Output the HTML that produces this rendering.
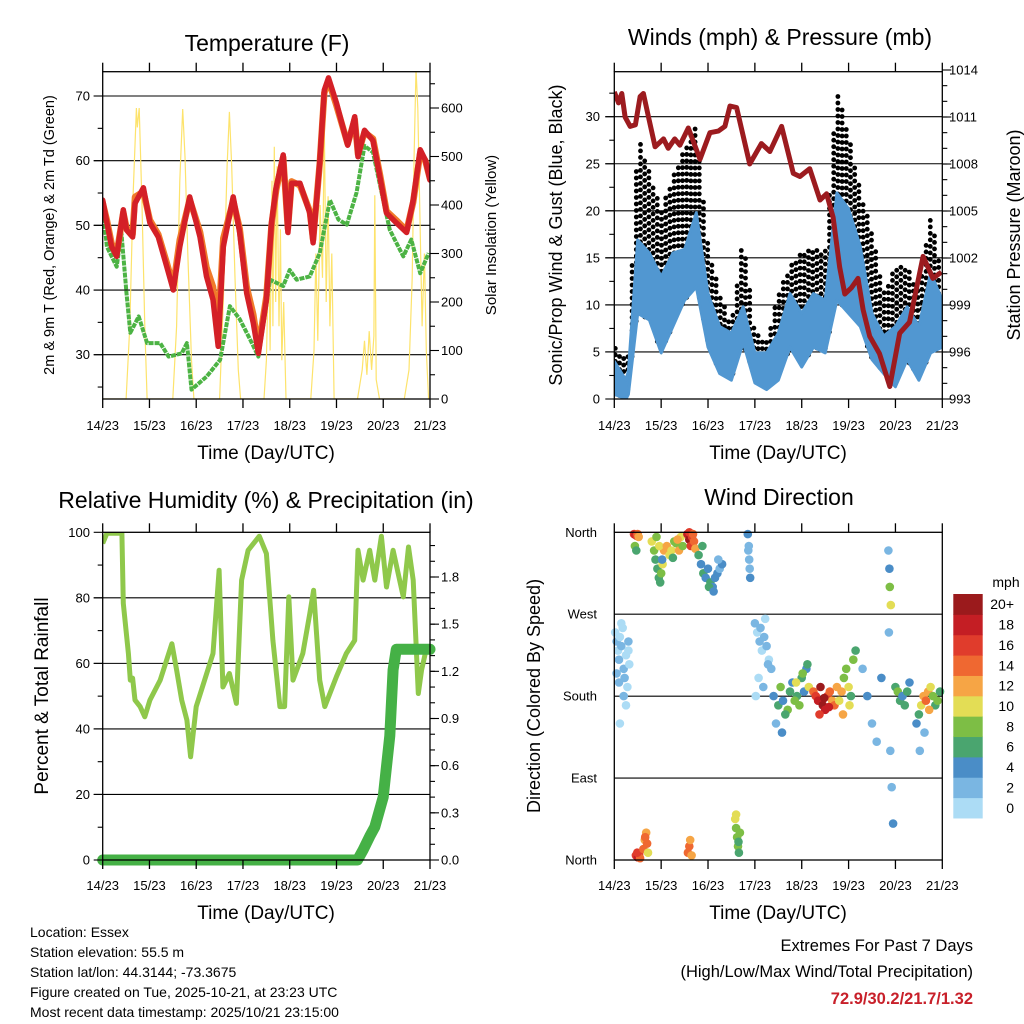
<!DOCTYPE html>
<html><head><meta charset="utf-8">
<style>
html,body{margin:0;padding:0;background:#fff;}
svg{display:block;font-family:"Liberation Sans",Arial,sans-serif;}
</style></head>
<body>
<svg id="chart" width="1024" height="1024" viewBox="0 0 1024 1024" xmlns="http://www.w3.org/2000/svg">
<defs>
<clipPath id="c1"><rect x="102.7" y="71.7" width="327.3" height="327.3"/></clipPath>
<clipPath id="c2"><rect x="614.3" y="71.7" width="328" height="327.3"/></clipPath>
<clipPath id="c3"><rect x="102.7" y="532.3" width="327.3" height="327.7"/></clipPath>
<clipPath id="c4"><rect x="610" y="526" width="336" height="338"/></clipPath>
</defs>
<g id="p1"></g>
<g id="p2"></g>
<g id="p3"></g>
<g id="p4"></g>

<text x="267" y="51" font-size="23" text-anchor="middle">Temperature (F)</text>
<text x="780" y="45" font-size="23" text-anchor="middle">Winds (mph) &amp; Pressure (mb)</text>
<text x="266" y="508" font-size="23" text-anchor="middle">Relative Humidity (%) &amp; Precipitation (in)</text>
<text x="779" y="505" font-size="23" text-anchor="middle">Wind Direction</text>

<text transform="translate(54,235) rotate(-90)" font-size="14.5" text-anchor="middle">2m &amp; 9m T (Red, Orange) &amp; 2m Td (Green)</text>
<text transform="translate(496,235) rotate(-90)" font-size="15" text-anchor="middle">Solar Insolation (Yellow)</text>
<text x="266" y="459" font-size="19" text-anchor="middle">Time (Day/UTC)</text>
<text transform="translate(562,235) rotate(-90)" font-size="18" text-anchor="middle">Sonic/Prop Wind &amp; Gust (Blue, Black)</text>
<text transform="translate(1020,235) rotate(-90)" font-size="18" text-anchor="middle">Station Pressure (Maroon)</text>
<text x="778" y="459" font-size="19" text-anchor="middle">Time (Day/UTC)</text>
<text transform="translate(48,696) rotate(-90)" font-size="19" text-anchor="middle">Percent &amp; Total Rainfall</text>
<text x="266" y="919" font-size="19" text-anchor="middle">Time (Day/UTC)</text>
<text transform="translate(540,696) rotate(-90)" font-size="18" text-anchor="middle">Direction (Colored By Speed)</text>
<text x="778" y="919" font-size="19" text-anchor="middle">Time (Day/UTC)</text>

<g font-size="14">
<text x="30" y="937">Location: Essex</text>
<text x="30" y="957">Station elevation: 55.5 m</text>
<text x="30" y="977">Station lat/lon: 44.3144; -73.3675</text>
<text x="30" y="997">Figure created on Tue, 2025-10-21, at 23:23 UTC</text>
<text x="30" y="1017">Most recent data timestamp: 2025/10/21 23:15:00</text>
</g>
<g text-anchor="end">
<text x="973" y="951" font-size="16.5">Extremes For Past 7 Days</text>
<text x="973" y="977" font-size="16.5">(High/Low/Max Wind/Total Precipitation)</text>
<text x="973" y="1004" font-size="16.5" font-weight="bold" fill="#c8202a">72.9/30.2/21.7/1.32</text>
</g>
</svg>

<script>
// ---------- DATA ----------
const dayLabels=["14/23","15/23","16/23","17/23","18/23","19/23","20/23","21/23"];
// Temperature panel
const tempTimes=[0,0.09,0.19,0.3,0.44,0.51,0.64,0.69,0.87,1.01,1.19,1.37,1.51,1.65,1.86,2.08,2.22,2.36,2.47,2.58,2.79,2.93,3.08,3.22,3.33,3.5,3.61,3.71,3.86,3.96,4.04,4.22,4.43,4.5,4.64,4.74,4.83,5.0,5.24,5.39,5.46,5.6,5.78,5.93,6.07,6.28,6.5,6.64,6.79,6.9,7.0];
const t2Values=[53.9,50.4,46.7,45.2,52.4,49.3,48.2,53.4,55.8,50.4,48.2,43.6,40,46.7,54.4,48.2,42.1,38.5,31.3,46.7,54.4,48.9,39.5,34.9,30.2,38.5,50.4,55.9,60.9,48.9,56.5,56.5,51.9,47.3,59.7,70.9,72.8,68.9,62.4,66.8,60.6,64.7,63.1,57.4,51.9,50.4,48.9,53.9,61.7,60.1,57];
const t9Values=[53.5,50.8,47.2,45.6,52.0,49.6,48.6,54.4,55.2,50.8,48.6,44.2,40.6,47.8,54.0,49.0,43.5,40.5,34.0,48.0,53.8,49.5,40.5,36.2,31.0,39.0,50.0,55.5,60.5,49.5,56.8,56.2,52.2,47.8,59.5,70.5,72.4,68.5,62.6,66.4,61.0,64.4,63.4,57.8,52.2,50.8,49.2,53.6,61.2,60.0,57.2];
const tdTimes=[0,0.09,0.3,0.4,0.51,0.59,0.77,0.95,1.23,1.41,1.69,1.8,1.9,2.22,2.51,2.72,2.93,3.15,3.33,3.58,3.86,4.0,4.15,4.43,4.64,4.86,5.04,5.22,5.43,5.6,5.78,6.0,6.14,6.43,6.6,6.79,6.97];
const tdValues=[53,46.7,43.6,48.9,39.5,33.4,35.9,31.8,31.8,29.7,30.2,31.8,24.6,26.6,29.2,37.5,35.5,32.4,29.7,41.6,40.6,43.1,41.6,42.1,45.7,53.9,50.9,50.1,55.1,62.3,61.3,53.9,49.3,45.2,47.8,42.6,45.7];
const solarTimes=[0,0.5,0.58,0.65,0.72,0.74,0.78,0.84,0.9,0.95,1.5,1.58,1.65,1.71,1.76,1.82,1.9,1.95,2.5,2.58,2.66,2.71,2.76,2.83,2.9,2.95,3.45,3.5,3.55,3.58,3.62,3.64,3.67,3.7,3.73,3.77,3.8,3.83,3.87,3.92,4.45,4.52,4.56,4.6,4.65,4.7,4.74,4.78,4.82,4.86,4.9,4.95,5.45,5.55,5.6,5.65,5.7,5.75,5.8,5.82,5.85,5.92,6.45,6.55,6.62,6.66,6.7,6.74,6.78,6.83,6.88,6.92,6.97,7];
const solarValues=[0,0,150,420,600,560,600,400,150,0,0,150,450,598,500,300,80,0,0,200,480,592,480,250,60,0,0,80,300,100,450,150,520,200,480,150,350,80,200,0,0,100,300,120,400,250,565,200,418,150,300,0,0,60,120,50,140,60,130,420,40,0,0,60,250,500,680,600,400,150,300,100,0,0];
// Winds panel
const pressTimes=[0,0.09,0.16,0.23,0.34,0.45,0.55,0.62,0.73,0.87,1.05,1.15,1.29,1.4,1.58,1.83,2.04,2.22,2.36,2.47,2.61,2.89,3.14,3.32,3.57,3.82,3.96,4.17,4.39,4.53,4.67,4.81,4.92,5.06,5.2,5.31,5.45,5.66,5.88,6.09,6.3,6.59,6.8,6.98];
const pressValues=[1012.6,1011.9,1012.5,1011.0,1010.4,1010.5,1012.3,1012.5,1011.0,1009.1,1009.6,1009.0,1009.6,1009.2,1010.3,1008.3,1010.0,1010.1,1010.4,1011.7,1011.6,1008.0,1009.3,1008.8,1010.4,1007.4,1007.2,1007.7,1005.7,1006.1,1004.6,1001.4,999.7,1000.1,1000.7,998.7,997.0,995.9,993.8,997.2,997.9,1002.1,1000.7,1001.1];
const windTimes=[0,0.25,0.3,0.5,0.75,1.0,1.25,1.5,1.75,2.0,2.25,2.5,2.75,3.0,3.25,3.5,3.75,4.0,4.25,4.5,4.75,5.0,5.25,5.5,5.75,6.0,6.25,6.5,6.75,7.0];
const sonicLow=[0.5,0,0.5,9.1,8.4,4.9,7.7,10.5,11.9,5.5,2.7,2.0,6.0,1.7,1.0,2.0,5.5,3.4,5.5,4.9,10.5,9.1,7.7,4.2,2.7,1.3,4.2,2.0,4.9,5.5];
const sonicHigh=[4,2,3,16.9,15.5,13,15.5,15.9,19.8,11.2,7.7,7.0,9.8,4.9,4.9,7.0,11.2,9.1,11.2,10.5,21.9,20.2,16.2,9.1,6.7,7.7,9.8,7.7,13.4,10.5];
const gustHigh=[5.5,4,5,28,24,20,23.5,26.5,29.3,16.2,11.2,7.7,17.3,7.0,6.0,11.2,14,15.5,15.9,15.5,32.9,28,22,17.7,11.2,14,14,11.2,19.5,13];
// Humidity panel
const rhTimes=[0,0.09,0.41,0.44,0.55,0.59,0.64,0.69,0.8,0.9,1.01,1.23,1.48,1.58,1.69,1.8,1.88,2.0,2.18,2.36,2.49,2.57,2.71,2.86,2.97,3.11,3.35,3.5,3.64,3.79,3.89,3.98,4.07,4.28,4.43,4.51,4.64,4.75,5.0,5.21,5.39,5.46,5.57,5.71,5.82,5.96,6.07,6.21,6.43,6.54,6.64,6.75,6.82,6.93,7.0];
const rhValues=[96.6,99.7,99.7,78.3,63,54.9,55.5,48.8,46.8,43.7,48.8,54.9,66,58,48.8,42.7,31.5,46.8,54.9,63,88.4,52.8,56.9,47.8,85.4,94.5,98.8,93.5,67,46.8,46.8,80.3,54.9,63,75.2,82.3,54.9,46.8,56,63,67,94.5,85.4,94.5,85.4,98.8,83.3,94.5,80.3,95.5,85.4,50.8,58,65,64];
const precipTimes=[0,5.45,5.57,5.71,5.82,6.0,6.14,6.21,6.28,7.0];
const precipValues=[0,0,0.064,0.15,0.21,0.40,0.79,1.21,1.34,1.34];
// Wind direction panel
const dirTimes=[0.02,0.05,0.08,0.1,0.12,0.15,0.18,0.2,0.22,0.25,0.28,0.3,0.32,0.05,0.1,0.15,0.2,0.25,0.3,0.12,
0.42,0.45,0.48,0.5,0.52,0.44,0.47,0.46,0.5,0.53,0.55,0.49,
0.62,0.65,0.68,0.7,0.72,0.66,
0.8,0.85,0.88,0.92,0.95,0.98,1.0,1.03,1.06,0.9,0.96,1.02,
1.12,1.18,1.22,1.28,1.32,1.38,1.42,1.46,1.25,1.35,
1.56,1.6,1.63,1.66,1.7,1.73,1.6,1.68,
1.57,1.6,1.62,1.65,
1.8,1.85,1.9,1.95,2.0,2.05,2.1,2.15,2.2,2.25,2.3,1.88,2.02,2.12,2.22,
2.58,2.6,2.62,2.64,2.66,2.68,2.6,2.65,
2.85,2.87,2.88,2.9,2.86,2.89,
3.0,3.05,3.1,3.15,3.2,3.25,3.3,3.35,3.08,3.18,3.28,3.02,3.12,3.22,
3.4,3.5,3.55,3.6,3.7,3.75,3.8,3.9,3.95,4.0,4.05,4.1,4.15,3.45,3.65,3.85,4.02,4.12,3.58,3.88,
4.25,4.3,4.35,4.4,4.45,4.5,4.55,4.6,4.65,4.7,4.75,4.38,4.48,4.58,
4.8,4.85,4.9,4.95,5.0,5.05,5.1,5.15,4.88,5.02,
5.3,5.4,5.5,5.6,5.7,5.85,5.87,5.88,5.9,5.86,5.89,5.92,5.95,
6.0,6.05,6.1,6.15,6.2,6.25,6.3,
6.45,6.5,6.55,6.6,6.65,6.7,6.75,6.8,6.85,6.9,6.95,6.62,6.72,6.52];
const dirValues=[250,240,230,220,245,235,255,210,200,225,190,240,215,205,195,260,180,170,230,150,
358,357,356,358,355,345,340,5,3,6,2,8,
12,22,30,18,8,25,
350,340,330,320,310,305,315,325,340,355,345,330,
345,335,340,350,348,340,355,345,332,352,
358,352,345,355,350,342,360,358,
8,15,22,5,
335,325,315,310,320,305,300,310,315,320,325,345,300,295,330,
45,35,25,15,8,30,50,20,
358,345,330,310,340,320,
260,250,240,230,245,235,220,210,200,190,215,180,255,265,
180,170,190,175,165,185,195,180,170,200,185,210,190,150,160,175,205,215,140,195,
185,180,175,190,170,165,180,185,175,170,190,160,178,168,
175,185,200,210,190,180,220,230,160,170,
210,180,150,130,200,340,320,300,280,250,120,80,40,
190,185,175,180,170,185,195,
150,160,170,180,175,185,190,180,170,175,185,140,165,120];
const dirSpeeds=[1,2,1,2,1,2,1,2,2,1,1,2,1,3,2,1,2,1,0,1,
16,18,16,14,12,8,6,17,18,16,14,17,
14,13,12,15,10,14,
10,8,6,7,6,7,8,10,12,9,11,5,
12,10,11,8,9,12,10,8,7,13,
18,20,16,17,14,12,16,15,
14,15,13,12,
6,5,6,4,5,6,4,5,4,3,4,7,6,5,3,
10,8,8,8,6,8,10,7,
4,3,3,4,2,3,
2,1,2,1,3,2,1,2,1,2,3,1,2,1,
5,6,8,4,8,6,5,7,8,6,4,5,10,3,7,9,8,6,4,10,
14,16,18,20,20,18,16,14,12,14,12,16,20,18,
10,12,8,8,10,6,8,6,12,10,
3,4,2,3,4,3,4,8,10,2,3,2,4,
6,8,6,5,6,7,4,
4,6,10,12,14,12,10,8,6,8,6,3,12,2];
const speedLabels=["0","2","4","6","8","10","12","14","16","18","20+"];
const speedColors=["#acdcf5","#7ab6e2","#4a8dc7","#4aa56f","#7dbe45","#e3dd55","#f6a545","#ef6831","#e03c2c","#c41e24","#9b1a1c"];

// ---------- HELPERS ----------
const NS="http://www.w3.org/2000/svg";
function lin(d0,d1,r0,r1){return v=>r0+(v-d0)*(r1-r0)/(d1-d0);}
function mk(parent,tag,attrs){const e=document.createElementNS(NS,tag);for(const k in attrs)e.setAttribute(k,attrs[k]);parent.appendChild(e);return e;}
function interp(ts,vs,t){if(t<=ts[0])return vs[0];for(let i=1;i<ts.length;i++){if(t<=ts[i]){const f=(t-ts[i-1])/(ts[i]-ts[i-1]);return vs[i-1]+f*(vs[i]-vs[i-1]);}}return vs[vs.length-1];}
function pathFrom(ts,vs,X,Y){return ts.map((t,i)=>(i?"L":"M")+X(t).toFixed(1)+","+Y(vs[i]).toFixed(1)).join("");}
function txt(parent,x,y,s,size,anchor){const e=mk(parent,"text",{x:x,y:y,"font-size":size,"text-anchor":anchor||"middle"});e.textContent=s;return e;}

function xAxis(g,X,y0,y1,labelY){
  for(let d=0;d<=7;d++){
    const t=mk(g,"line",{x1:X(d),x2:X(d),y1:y0-9,y2:y0,stroke:"#000","stroke-width":1.3});
    
    
    const b=mk(g,"line",{x1:X(d),x2:X(d),y1:y1,y2:y1+9,stroke:"#000","stroke-width":1.3});
    
    
    const l=txt(g,X(d),labelY,dayLabels[d],13);
    
    
  }
}
function yTicks(g,Y,vals,x,side,len,name){
  vals.forEach(v=>{
    const x2=side==="left"?x-len:x+len;
    const e=mk(g,"line",{x1:x,x2:x2,y1:Y(v),y2:Y(v),stroke:"#000","stroke-width":1.1});
    
    
  });
}
function yLabels(g,Y,vals,fmt,x,anchor,name){
  vals.forEach(v=>{
    const e=txt(g,x,Y(v)+4.5,fmt(v),13,anchor);
    
    
  });
}
function grid(g,Y,vals,x0,x1){
  vals.forEach(v=>{
    const e=mk(g,"line",{x1:x0,x2:x1,y1:Y(v),y2:Y(v),stroke:"#000","stroke-width":1.1});
    
    
  });
}
function frame(g,x0,y0,x1,y1){
  const e=mk(g,"rect",{x:x0,y:y0,width:x1-x0,height:y1-y0,fill:"none",stroke:"#000","stroke-width":1.3});
  
  
}
function range(a,b,s){const r=[];for(let v=a;v<=b+1e-9;v+=s)r.push(+v.toFixed(4));return r;}

// ---------- PANEL 1 ----------
(function(){
  const g=document.getElementById("p1");
  const x0=102.7,x1=430,y0=71.7,y1=399;
  const X=lin(0,7,x0,x1),Y=lin(30,70,354.7,96),S=lin(0,600,399,108);
  grid(g,Y,[30,40,50,60,70],x0-9,x1);
  const c=mk(g,"g",{"clip-path":"url(#c1)"});
  const sol=mk(c,"path",{d:pathFrom(solarTimes,solarValues,X,S),fill:"none",stroke:"#fde36c","stroke-width":1.2});
  
  
  const td=mk(c,"path",{d:pathFrom(tdTimes,tdValues,X,Y),fill:"none",stroke:"#4cb344","stroke-width":4,"stroke-dasharray":"5 1","stroke-linejoin":"round"});
  
  
  const t9=mk(c,"path",{d:pathFrom(tempTimes,t9Values,X,Y),fill:"none",stroke:"#f07a2a","stroke-width":6.5,"stroke-linejoin":"round","stroke-linecap":"round"});
  
  
  const t2=mk(c,"path",{d:pathFrom(tempTimes,t2Values,X,Y),fill:"none",stroke:"#d42027","stroke-width":5.5,"stroke-linejoin":"round","stroke-linecap":"round"});
  
  
  frame(g,x0,y0,x1,y1);
  xAxis(g,X,y0,y1,430);
  yTicks(g,Y,[30,40,50,60,70],x0,"left",9,"y-major-tick");
  yTicks(g,Y,[25,35,45,55,65],x0,"left",5,"y-minor-tick");
  yLabels(g,Y,[30,40,50,60,70],v=>String(v),90,"end","y-tick-label");
  yTicks(g,S,range(0,600,100),x1,"right",9,"solar-major-tick");
  yTicks(g,S,range(50,650,100),x1,"right",5,"solar-minor-tick");
  yLabels(g,S,range(0,600,100),v=>String(v),441,"start","solar-tick-label");
})();

// ---------- PANEL 2 ----------
(function(){
  const g=document.getElementById("p2");
  const x0=614.3,x1=942.3,y0=71.7,y1=399;
  const X=lin(0,7,x0,x1),W=lin(0,30,399,116.7),P=lin(993,1014,399,70.0);
  grid(g,W,[5,10,15,20,25,30],x0-9,x1);
  const c=mk(g,"g",{"clip-path":"url(#c2)"});
  let d="";
  let col=0;
  for(let x=x0+1;x<=x1;x+=4.2){
    const t=(x-x0)/(x1-x0)*7;
    const gh=interp(windTimes,gustHigh,t),bl=interp(windTimes,sonicLow,t);
    const off=(col%2)*3;
    for(let y=W(gh)+off;y<=W(bl);y+=6.5){d+="M"+(x-2.4).toFixed(1)+","+y.toFixed(1)+"a2.4,2.4 0 1,0 4.8,0a2.4,2.4 0 1,0 -4.8,0";}
    col++;
  }
  const gust=mk(c,"path",{d:d,fill:"#000"});
  
  
  const band=windTimes.map((t,i)=>X(t).toFixed(1)+","+W(sonicHigh[i]).toFixed(1)).concat(windTimes.slice().reverse().map((t,j)=>{const i=windTimes.length-1-j;return X(t).toFixed(1)+","+W(sonicLow[i]).toFixed(1);}));
  const sonic=mk(c,"polygon",{points:band.join(" "),fill:"#5197d1",stroke:"#5197d1","stroke-width":3,"stroke-linejoin":"round"});
  
  
  const pr=mk(c,"path",{d:pathFrom(pressTimes,pressValues,X,P),fill:"none",stroke:"#9c1b1f","stroke-width":5,"stroke-linejoin":"round"});
  
  
  frame(g,x0,y0,x1,y1);
  xAxis(g,X,y0,y1,430);
  yTicks(g,W,range(0,30,5),x0,"left",9,"wind-major-tick");
  yTicks(g,W,range(2.5,32.5,5),x0,"left",5,"wind-minor-tick");
  yLabels(g,W,range(0,30,5),v=>String(v),600,"end","wind-tick-label");
  yTicks(g,P,range(993,1014,3),x1,"right",9,"pressure-major-tick");
  yTicks(g,P,range(994,1013,1),x1,"right",5,"pressure-minor-tick");
  yLabels(g,P,range(993,1014,3),v=>String(v),949,"start","pressure-tick-label");
})();

// ---------- PANEL 3 ----------
(function(){
  const g=document.getElementById("p3");
  const x0=102.7,x1=430,y0=532.3,y1=860;
  const X=lin(0,7,x0,x1),H=lin(0,100,860,532.3),R=lin(0,1.8,860,577);
  grid(g,H,[20,40,60,80],x0-9,x1);
  const c=mk(g,"g",{"clip-path":"url(#c3)"});
  const rh=mk(c,"path",{d:pathFrom(rhTimes,rhValues,X,H),fill:"none",stroke:"#8fc84b","stroke-width":5,"stroke-linejoin":"round"});
  
  
  const pc=mk(g,"path",{d:pathFrom(precipTimes,precipValues,X,R),fill:"none",stroke:"#45b146","stroke-width":11,"stroke-linejoin":"round","stroke-linecap":"round"});
  
  
  frame(g,x0,y0,x1,y1);
  xAxis(g,X,y0,y1,890);
  yTicks(g,H,range(0,100,20),x0,"left",9,"rh-major-tick");
  yTicks(g,H,range(10,90,20),x0,"left",5,"rh-minor-tick");
  yLabels(g,H,range(0,100,20),v=>String(v),90,"end","rh-tick-label");
  yTicks(g,R,range(0,1.8,0.3),x1,"right",9,"precip-major-tick");
  yTicks(g,R,range(0.1,2.0,0.1),x1,"right",5,"precip-minor-tick");
  yLabels(g,R,range(0,1.8,0.3),v=>v.toFixed(1),441,"start","precip-tick-label");
})();

// ---------- PANEL 4 ----------
(function(){
  const g=document.getElementById("p4");
  const x0=614.3,x1=942.3,y0=532.3,y1=860;
  const X=lin(0,7,x0,x1),D=lin(0,360,860,532.3);
  grid(g,D,[90,180,270],x0,x1);
  const c=mk(g,"g",{"clip-path":"url(#c4)"});
  dirTimes.forEach((t,i)=>{
    const bin=Math.min(10,Math.floor(dirSpeeds[i]/2));
    const p=mk(c,"circle",{cx:X(t).toFixed(1),cy:D(dirValues[i]).toFixed(1),r:4.3,fill:speedColors[bin]});
    
    
  });
  frame(g,x0,y0,x1,y1);
  xAxis(g,X,y0,y1,890);
  const names=["North","East","South","West","North"];
  [0,90,180,270,360].forEach((v,i)=>{
    const e=txt(g,597,D(v)+4.5,names[i],13,"end");
    
    
  });
  const cbTop=594,cbH=20.36,cbX=953.3,cbW=29.4;
  speedColors.forEach((col,i)=>{
    const k=10-i;
    const r=mk(g,"rect",{x:cbX,y:cbTop+k*cbH,width:cbW,height:cbH+0.5,fill:col});
    
    
    const l=txt(g,1014,cbTop+k*cbH+cbH/2+5,speedLabels[i],14,"end");
    
    
  });
  const m=txt(g,1006,587,"mph",14,"middle");
  
  
})();
</script>
</body></html>
